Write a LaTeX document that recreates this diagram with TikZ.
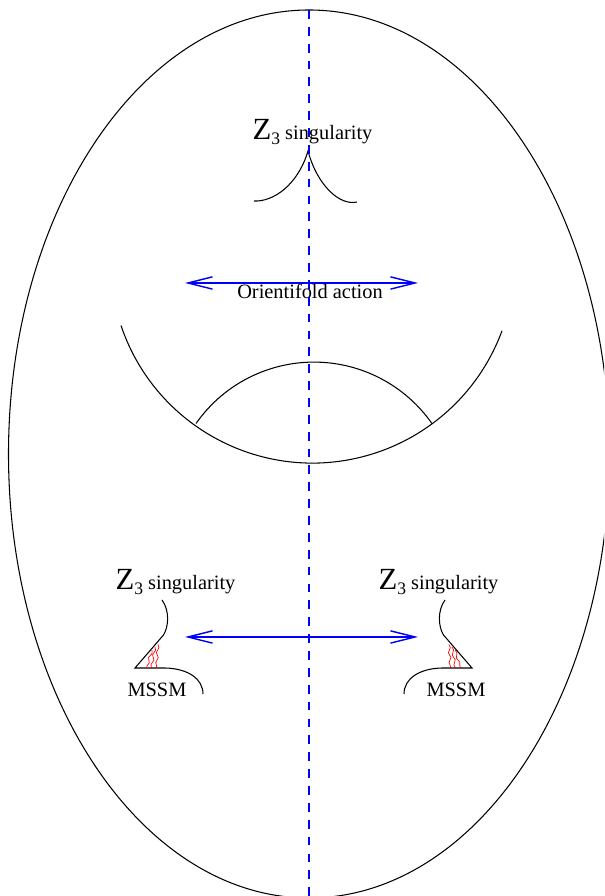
\documentclass[tikz,border=0pt]{standalone}
\usepackage{fontspec}
\setmainfont{Liberation Serif}
\usetikzlibrary{arrows.meta,decorations.pathmorphing}

\newcommand{\zthree}{{\fontsize{17.5}{17}\selectfont Z}\raisebox{-2.8pt}{\fontsize{10}{10}\selectfont 3} singularity}

\begin{document}
\begin{tikzpicture}[line width=0.6pt,
    axisline/.style={blue,line width=0.9pt,dash pattern=on 5pt off 4.6pt},
    action/.style={blue,line width=0.8pt,
        {Straight Barb[length=14pt,width=7pt]}-{Straight Barb[length=14pt,width=7pt]}},
    string/.style={red,line width=0.4pt,decorate,
        decoration={snake,amplitude=0.022cm,segment length=0.2cm}},
    lbl/.style={font=\fontsize{11.6}{13}\selectfont,inner sep=0pt}]
    \path[use as bounding box,clip] (0,0) rectangle (12.08,17.92);
    % outer surface
    \draw (6.18,8.84) ellipse [x radius=6.01, y radius=8.88];
    % top singularity
    \draw (5.08,13.90) .. controls (5.45,13.88) and (5.95,14.2) .. (6.16,14.90)
        .. controls (6.35,14.2) and (6.8,13.8) .. (7.14,13.88);
    \node[lbl,anchor=base west] (ztop) at (5.04,15.12) {\zthree};
    % orientifold action
    \coordinate (topL) at (3.70,12.26);
    \coordinate (topR) at (8.36,12.26);
    \draw[action] (topL) -- (topR);
    \node[lbl,anchor=base] (orient) at (6.20,11.95) {Orientifold action};
    % bowl and cap
    \draw (2.42,11.41) arc[start angle=198.6, end angle=339.8, radius=4.04];
    \draw (3.92,9.45) arc[start angle=145, end angle=35, radius=2.88];
    % lower singularities
    \draw (3.24,5.92) .. controls (3.40,5.70) and (3.37,5.38) .. (3.27,5.22)
        -- (2.70,4.56) -- (3.30,4.56) .. controls (3.75,4.55) and (4.06,4.35) .. (4.06,4.04);
    \draw[string] (3.04,4.92) -- (2.93,4.56);
    \draw[string] (3.10,4.98) -- (3.03,4.56);
    \draw[string] (3.16,5.03) -- (3.13,4.56);
    \begin{scope}[xshift=12.14cm,xscale=-1]
        \draw (3.24,5.92) .. controls (3.40,5.70) and (3.37,5.38) .. (3.27,5.22)
            -- (2.70,4.56) -- (3.30,4.56) .. controls (3.75,4.55) and (4.06,4.35) .. (4.06,4.04);
        \draw[string] (3.04,4.92) -- (2.93,4.56);
        \draw[string] (3.10,4.98) -- (3.03,4.56);
        \draw[string] (3.16,5.03) -- (3.13,4.56);
    \end{scope}
    \node[lbl,anchor=base west] (zleft) at (2.30,6.12) {\zthree};
    \node[lbl,anchor=base west] (zright) at (7.56,6.12) {\zthree};
    \node[lbl,anchor=base] (mssmL) at (3.14,3.98) {MSSM};
    \node[lbl,anchor=base] (mssmR) at (9.12,3.98) {MSSM};
    \coordinate (botL) at (3.70,5.18);
    \coordinate (botR) at (8.36,5.18);
    \draw[action] (botL) -- (botR);
    % symmetry axis
    \coordinate (north) at (6.18,17.72);
    \coordinate (south) at (6.18,-0.2);
    \draw[axisline] (north) -- (south);
\end{tikzpicture}
\end{document}
